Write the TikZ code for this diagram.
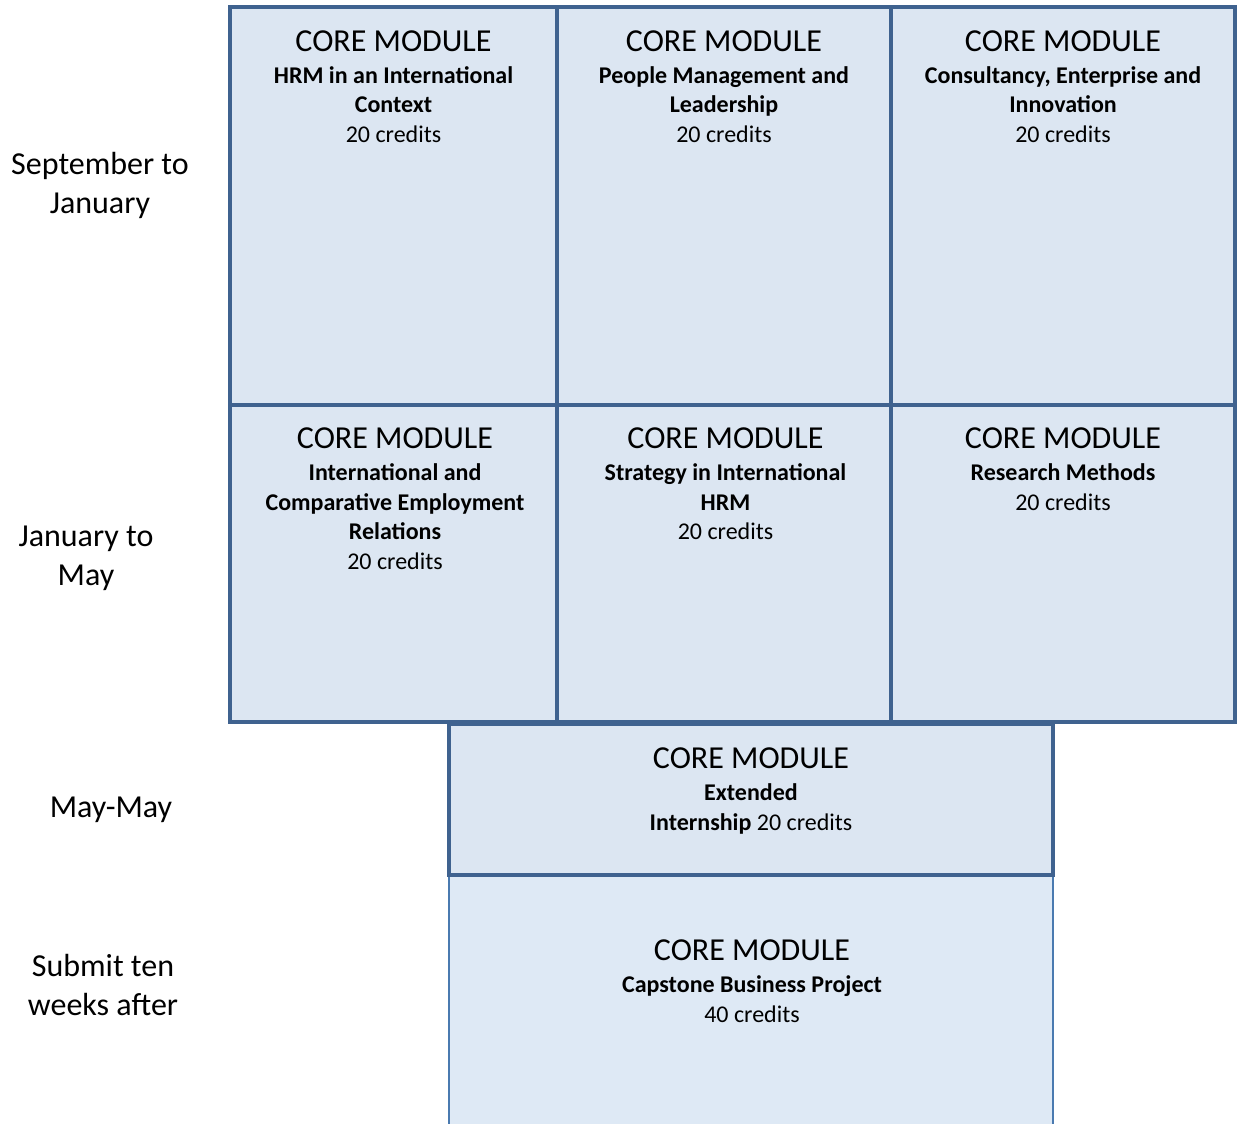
\documentclass[tikz,border=0pt]{standalone}
\usepackage{fontspec}
\setmainfont{Carlito}
\usepackage{xcolor}
\usepackage{tikz}
\usetikzlibrary{positioning}

\definecolor{cellline}{RGB}{63,98,143}
\definecolor{cellfill}{RGB}{220,230,242}
\definecolor{capline}{RGB}{74,122,176}
\definecolor{capfill}{RGB}{222,233,245}
\newcommand{\coremod}{{\fontsize{32}{38}\selectfont CORE MODULE}}

\begin{document}
\begin{tikzpicture}[x=1pt,y=-1pt,
		cell/.style={draw=cellline, line width=4pt, fill=cellfill, inner sep=0pt},
		modtext/.style={align=center, inner sep=0pt, font=\fontsize{24}{29.5}\selectfont},
		term/.style={align=center, inner sep=0pt, font=\fontsize{32}{39}\selectfont}]
	\useasboundingbox (0,0) rectangle (1237,1124);
	% last block runs off the page
	\node[cell, draw=capline, line width=2pt, fill=capfill, minimum width=604pt, minimum height=265pt] (cap) at (751,1007.5) {};
	\node[cell, minimum width=604pt, minimum height=151pt] (intern) at (751,799.5) {};
	% second term
	\node[cell, minimum width=327pt, minimum height=317pt] (c21) at (393.5,563.5) {};
	\node[cell, minimum width=334pt, minimum height=317pt] (c22) at (724,563.5) {};
	\node[cell, minimum width=344pt, minimum height=317pt] (c23) at (1063,563.5) {};
	% first term
	\node[cell, minimum width=327pt, minimum height=398pt] (c11) at (393.5,206) {};
	\node[cell, minimum width=334pt, minimum height=398pt] (c12) at (724,206) {};
	\node[cell, minimum width=344pt, minimum height=398pt] (c13) at (1063,206) {};

	\node[modtext, below=25.5pt of c11.north] (m11) {\coremod\\[2.5pt]
		\textbf{HRM in an International}\\ \textbf{Context}\\ 20 credits};
	\node[modtext, below=25.5pt of c12.north] (m12) {\coremod\\[2.5pt]
		\textbf{People Management and}\\ \textbf{Leadership}\\ 20 credits};
	\node[modtext, below=25.5pt of c13.north] (m13) {\coremod\\[2.5pt]
		\textbf{Consultancy, Enterprise and}\\ \textbf{Innovation}\\ 20 credits};
	\node[modtext, below=25pt of c21.north, xshift=1.5pt] (m21) {\coremod\\[2.5pt]
		\textbf{International and}\\ \textbf{Comparative Employment}\\ \textbf{Relations}\\ 20 credits};
	\node[modtext, below=25pt of c22.north, xshift=1.5pt] (m22) {\coremod\\[2.5pt]
		\textbf{Strategy in International}\\ \textbf{HRM}\\ 20 credits};
	\node[modtext, below=25pt of c23.north] (m23) {\coremod\\[2.5pt]
		\textbf{Research Methods}\\ 20 credits};
	\node[modtext, below=26pt of intern.north] (mint) {\coremod\\[2.5pt]
		\textbf{Extended}\\ \textbf{Internship} 20 credits};
	\node[modtext, below=66pt of cap.north, xshift=1pt] (mcap) {\coremod\\[2.5pt]
		\textbf{Capstone Business Project}\\ 40 credits};

	% time periods
	\node[term] (t1) at (100,185) {September to\\January};
	\node[term] (t2) at (86,558) {January to\\May};
	\node[term] (t3) at (111,810) {May-May};
	\node[term] (t4) at (103,985) {Submit ten\\weeks after};
\end{tikzpicture}
\end{document}
